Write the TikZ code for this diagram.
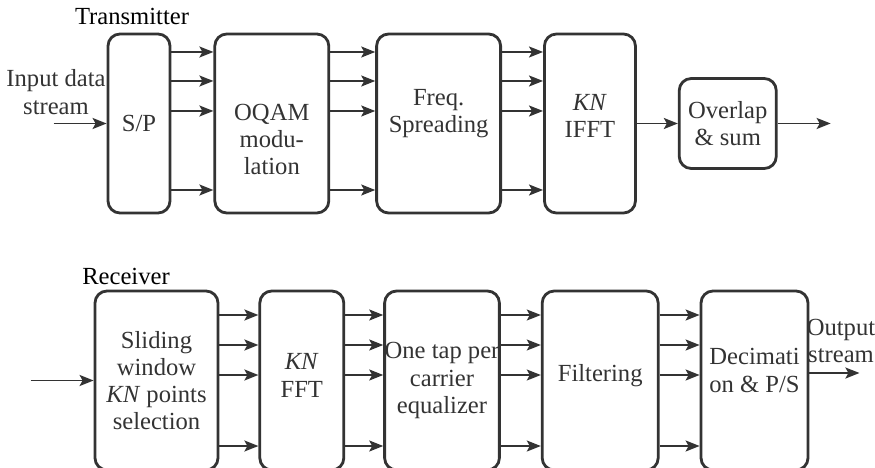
\documentclass[tikz,border=0pt]{standalone}
\usepackage{fontspec}
\setmainfont{Liberation Serif}
\usetikzlibrary{positioning,arrows.meta}
\definecolor{ink}{HTML}{333333}

\begin{document}
\begin{tikzpicture}[node distance=0.8cm,
	blk/.style={draw=ink, line width=1.6pt, rounded corners=0.24cm, minimum height=3.58cm, inner sep=0pt, align=center, text=ink, font=\fontsize{14}{15.5}\selectfont},
	lbl/.style={align=center, inner sep=0pt, text=ink, font=\fontsize{14}{15.5}\selectfont},
	sig/.style={draw=ink, line width=1.1pt, -{Stealth[length=0.28cm,width=0.22cm,inset=0.06cm]}}]
	\useasboundingbox (0,0) rectangle (17.5,-9.36);
	% transmitter chain
	\node[blk, minimum width=1.24cm] (sp) at (2.78,-2.47) {S/P};
	\node[blk, minimum width=2.28cm, label={[lbl,yshift=-0.32cm]center:OQAM\\modu-\\lation}] (oqam) [right=0.84cm of sp] {};
	\node[blk, minimum width=2.48cm, label={[lbl,yshift=0.2cm]center:Freq.\\Spreading}] (freq) [right=0.9cm of oqam] {};
	\node[blk, minimum width=1.82cm, label={[lbl,yshift=0.15cm]center:\textit{KN}\\IFFT}] (ifft) [right=0.82cm of freq] {};
	\node[blk, minimum width=1.94cm, minimum height=1.8cm] (ovl) [right=0.82cm of ifft] {Overlap\\\& sum};
	\coordinate[left=1.06cm of sp] (txin);
	\coordinate[right=1.06cm of ovl] (txout);
	\node[lbl, text=black, anchor=base] (txlbl) at (2.64,-0.5) {Transmitter};
	\node[lbl] (inlbl) at (1.12,-1.84) {Input data\\stream};

	% receiver chain
	\node[blk, minimum width=2.46cm] (slide) at (3.13,-7.61) {Sliding\\window\\\textit{KN} points\\selection};
	\node[blk, minimum width=1.68cm, label={[lbl,yshift=0.1cm]center:\textit{KN}\\FFT}] (fft) [right=0.78cm of slide] {};
	\node[blk, minimum width=2.28cm] (eq) [right=0.76cm of fft] {One tap per\\carrier\\equalizer};
	\node[blk, minimum width=2.32cm, label={[lbl,yshift=0.1cm]center:Filtering}] (filt) [right=0.8cm of eq] {};
	\node[blk, minimum width=2.14cm, label={[lbl,yshift=0.2cm]center:Decimati\\on \& P/S}] (dec) [right=0.8cm of filt] {};
	\coordinate[left=1.26cm of slide] (rxin);
	\coordinate[right=1.0cm of dec, yshift=0.15cm] (rxout);
	\node[lbl, text=black, anchor=base] (rxlbl) at (2.52,-5.68) {Receiver};
	\node[lbl] (outlbl) at (16.82,-6.82) {Output\\stream};

	% connections
	\draw[sig] (txin) -- (sp);
	\foreach \a/\b in {sp/oqam,oqam/freq,freq/ifft}
		\foreach \dy in {1.43,0.85,0.25,-1.33}
			\draw[sig] ([yshift=\dy cm]\a.east) -- ([yshift=\dy cm]\b.west);
	\draw[sig] (ifft) -- (ovl);
	\draw[sig] (ovl) -- (txout);

	\draw[sig] (rxin) -- (slide);
	\foreach \a/\b in {slide/fft,fft/eq,eq/filt,filt/dec}
		\foreach \dy in {1.31,0.71,0.11,-1.31}
			\draw[sig] ([yshift=\dy cm]\a.east) -- ([yshift=\dy cm]\b.west);
	\draw[sig] ([yshift=0.15cm]dec.east) -- (rxout);
\end{tikzpicture}
\end{document}
